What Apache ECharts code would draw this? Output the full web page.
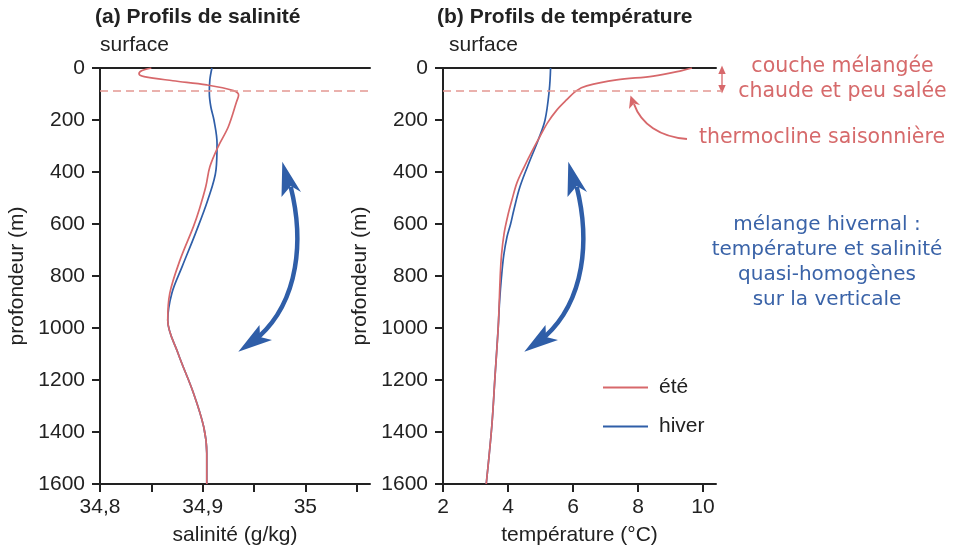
<!DOCTYPE html>
<html><head><meta charset="utf-8">
<script src="https://cdn.jsdelivr.net/npm/echarts@6/dist/echarts.min.js"></script>
<style>html,body{margin:0;padding:0;background:#fff}#c{width:961px;height:547px}</style>
</head><body><div id="c"></div>
<script>
// ---- data ----
const salTicks = [34.8, 34.85, 34.9, 34.95, 35.0, 35.05];
const salLabels = [34.8, 34.9, 35.0];
const tempTicks = [2, 4, 6, 8, 10];
const depthMin = 0, depthMax = 1600, depthStep = 200;
const mixedLayerDepth = 88;

const depthSalEte = [0, 10, 22, 33, 49, 65, 87, 104, 130, 226, 303, 380, 457, 540, 610, 738, 866, 970, 1097, 1250, 1380, 1482, 1600];
const salEte =      [34.850, 34.841, 34.838, 34.843, 34.871, 34.904, 34.930, 34.935, 34.933, 34.925, 34.915, 34.907, 34.903, 34.897, 34.891, 34.878, 34.868, 34.866, 34.876, 34.891, 34.901, 34.904, 34.904];

const depthSalHiver = [0, 46, 97, 150, 200, 290, 392, 508, 636, 764, 866, 970, 1097, 1250, 1380, 1482, 1600];
const salHiver =      [34.909, 34.907, 34.9065, 34.908, 34.911, 34.914, 34.913, 34.905, 34.893, 34.880, 34.870, 34.866, 34.876, 34.891, 34.901, 34.904, 34.904];

const depthTempEte = [0, 10, 31, 46, 69, 87, 123, 162, 210, 264, 320, 380, 440, 508, 570, 636, 720, 803, 995, 1187, 1380, 1600];
const tempEte =      [9.66, 9.35, 8.47, 7.34, 6.42, 6.11, 5.80, 5.50, 5.22, 4.98, 4.74, 4.50, 4.28, 4.12, 3.99, 3.88, 3.80, 3.76, 3.70, 3.60, 3.50, 3.33];

const depthTempHiver = [0, 85, 200, 277, 354, 456, 546, 600, 649, 720, 803, 900, 995, 1187, 1380, 1600];
const tempHiver =      [5.31, 5.27, 5.14, 4.93, 4.68, 4.37, 4.18, 4.08, 3.97, 3.87, 3.80, 3.74, 3.70, 3.60, 3.50, 3.33];

// ---- styles ----
const RED = '#d7686b', BLUE = '#2f5ea8', DASH = '#e39893', TXTRED = '#d66a6b', TXTBLUE = '#3a63a8';
const AX = '#222';
const FONT = '"Liberation Sans", Arial, sans-serif';
const AFONT = '"DejaVu Sans", Verdana, sans-serif';
const FS = 21;

function pairs(xs, ys) { return xs.map((x, i) => [x, ys[i]]); }

function xBottom(grid, min, max, ticks, labels, name, fmt) {
  return {
    type: 'value', gridIndex: grid, position: 'bottom', min: min, max: max,
    name: name, nameLocation: 'middle', nameGap: 41,
    nameTextStyle: { fontSize: FS, color: AX, fontFamily: FONT },
    axisLine: { show: true, onZero: false, lineStyle: { color: AX, width: 2 } },
    axisTick: { show: true, length: 8, lineStyle: { color: AX, width: 2 }, customValues: ticks },
    axisLabel: { show: true, fontSize: FS, color: AX, fontFamily: FONT, margin: 13, customValues: labels, formatter: fmt },
    splitLine: { show: false }
  };
}
function xTop(grid, min, max) {
  return {
    type: 'value', gridIndex: grid, position: 'top', min: min, max: max,
    axisLine: { show: true, onZero: false, lineStyle: { color: AX, width: 2 } },
    axisTick: { show: false }, axisLabel: { show: false }, splitLine: { show: false }
  };
}
function yAx(grid) {
  return {
    type: 'value', gridIndex: grid, inverse: true, min: depthMin, max: depthMax, interval: depthStep,
    name: 'profondeur (m)', nameLocation: 'middle', nameGap: 72, nameRotate: 90,
    nameTextStyle: { fontSize: FS, color: AX, fontFamily: FONT },
    axisLine: { show: true, onZero: false, lineStyle: { color: AX, width: 2 } },
    axisTick: { show: true, length: 8, lineStyle: { color: AX, width: 2 } },
    axisLabel: { show: true, fontSize: FS, color: AX, fontFamily: FONT, margin: 15, formatter: v => String(v) },
    splitLine: { show: false }
  };
}

function lineSeries(name, xi, yi, data, color, z, mark) {
  const s = {
    type: 'line', name: name, xAxisIndex: xi, yAxisIndex: yi, data: data,
    smooth: 0.35, symbol: 'none', showSymbol: false, z: z,
    lineStyle: { color: color, width: 1.7 }, itemStyle: { color: color },
    animation: false
  };
  if (mark) {
    s.markLine = {
      silent: true, symbol: 'none', animation: false,
      label: { show: false },
      lineStyle: { color: DASH, width: 1.6, type: [8, 5] },
      data: [{ yAxis: mixedLayerDepth }]
    };
  }
  return s;
}

function blueArrow(dx) {
  const c = BLUE;
  return [
    { type: 'bezierCurve', shape: { x1: 576.7 + dx, y1: 186.7, cpx1: 590 + dx, cpy1: 240, cpx2: 585 + dx, cpy2: 300, x2: 545 + dx, y2: 336.7 },
      style: { stroke: c, lineWidth: 4.5, fill: null }, z: 100 },
    { type: 'polygon', shape: { points: [[568.3 + dx, 161.7], [587 + dx, 192], [576.7 + dx, 186], [567.5 + dx, 197]] },
      style: { fill: c }, z: 101 },
    { type: 'polygon', shape: { points: [[524.3 + dx, 351.7], [545.5 + dx, 325], [546 + dx, 337], [558 + dx, 340]] },
      style: { fill: c }, z: 101 }
  ];
}

const graphics = [
  { type: 'text', left: 95, top: 7, style: { text: '(a) Profils de salinité', font: 'bold 21px ' + FONT, fill: AX } },
  { type: 'text', left: 437, top: 7, style: { text: '(b) Profils de température', font: 'bold 21px ' + FONT, fill: AX } },
  { type: 'text', left: 100, top: 35, style: { text: 'surface', font: '21px ' + FONT, fill: AX } },
  { type: 'text', left: 449, top: 35, style: { text: 'surface', font: '21px ' + FONT, fill: AX } },
  // red annotations
  { type: 'text', x: 842.5, y: 79.5, style: { text: 'couche mélangée\nchaude et peu salée', font: '20.5px ' + AFONT, fill: TXTRED, align: 'center', verticalAlign: 'middle', lineHeight: 25 } },
  { type: 'text', x: 822, y: 138, style: { text: 'thermocline saisonnière', font: '20.5px ' + AFONT, fill: TXTRED, align: 'center', verticalAlign: 'middle' } },
  { type: 'text', x: 827, y: 262.5, style: { text: 'mélange hivernal :\ntempérature et salinité\nquasi-homogènes\nsur la verticale', font: '20px ' + AFONT, fill: TXTBLUE, align: 'center', verticalAlign: 'middle', lineHeight: 25 } },
  // small double arrow
  { type: 'line', shape: { x1: 722, y1: 70, x2: 722, y2: 89 }, style: { stroke: RED, lineWidth: 1.3 } },
  { type: 'polygon', shape: { points: [[722, 65.5], [718.3, 74], [725.7, 74]] }, style: { fill: RED } },
  { type: 'polygon', shape: { points: [[722, 93.5], [718.3, 85], [725.7, 85]] }, style: { fill: RED } },
  // dashed extension to the double arrow
  { type: 'line', shape: { x1: 717, y1: 91, x2: 722, y2: 91 }, style: { stroke: DASH, lineWidth: 1.6 } },
  // thermocline arrow
  { type: 'bezierCurve', shape: { x1: 687, y1: 139, cpx1: 660, cpy1: 137, cpx2: 641, cpy2: 124, x2: 634, y2: 104 }, style: { stroke: RED, lineWidth: 2, fill: null } },
  { type: 'polygon', shape: { points: [[630.5, 95.5], [640, 105], [634, 103.5], [629, 109]] }, style: { fill: RED } }
].concat(blueArrow(0), blueArrow(-286));

const option = {
  backgroundColor: '#fff',
  animation: false,
  grid: [
    { left: 100, top: 68, width: 270, height: 416, outerBoundsMode: 'none', containLabel: false },
    { left: 443, top: 68, width: 273, height: 416, outerBoundsMode: 'none', containLabel: false }
  ],
  xAxis: [
    xBottom(0, 34.8, 35.063, salTicks, salLabels, 'salinité (g/kg)', v => {
      const r = Math.round(v * 10) / 10; return (Math.abs(r - 35) < 1e-9 ? '35' : r.toFixed(1).replace('.', ','));
    }),
    xTop(0, 34.8, 35.063),
    xBottom(1, 2, 10.4, tempTicks, tempTicks, 'température (°C)', v => String(Math.round(v))),
    xTop(1, 2, 10.4)
  ],
  yAxis: [yAx(0), yAx(1)],
  legend: {
    data: ['été', 'hiver'], orient: 'vertical', left: 598, top: 372,
    icon: 'rect', itemWidth: 45, itemHeight: 2.2, itemGap: 18,
    textStyle: { fontSize: FS, color: AX, fontFamily: FONT, padding: [0, 0, 0, 6] }
  },
  series: [
    lineSeries('hiver', 0, 0, pairs(salHiver, depthSalHiver), BLUE, 2, false),
    lineSeries('été', 0, 0, pairs(salEte, depthSalEte), RED, 3, true),
    lineSeries('hiver', 2, 1, pairs(tempHiver, depthTempHiver), BLUE, 2, false),
    lineSeries('été', 2, 1, pairs(tempEte, depthTempEte), RED, 3, true)
  ],
  graphic: graphics
};

const chart = echarts.init(document.getElementById('c'), null, { renderer: 'canvas' });
chart.setOption(option);
</script>
</body></html>
